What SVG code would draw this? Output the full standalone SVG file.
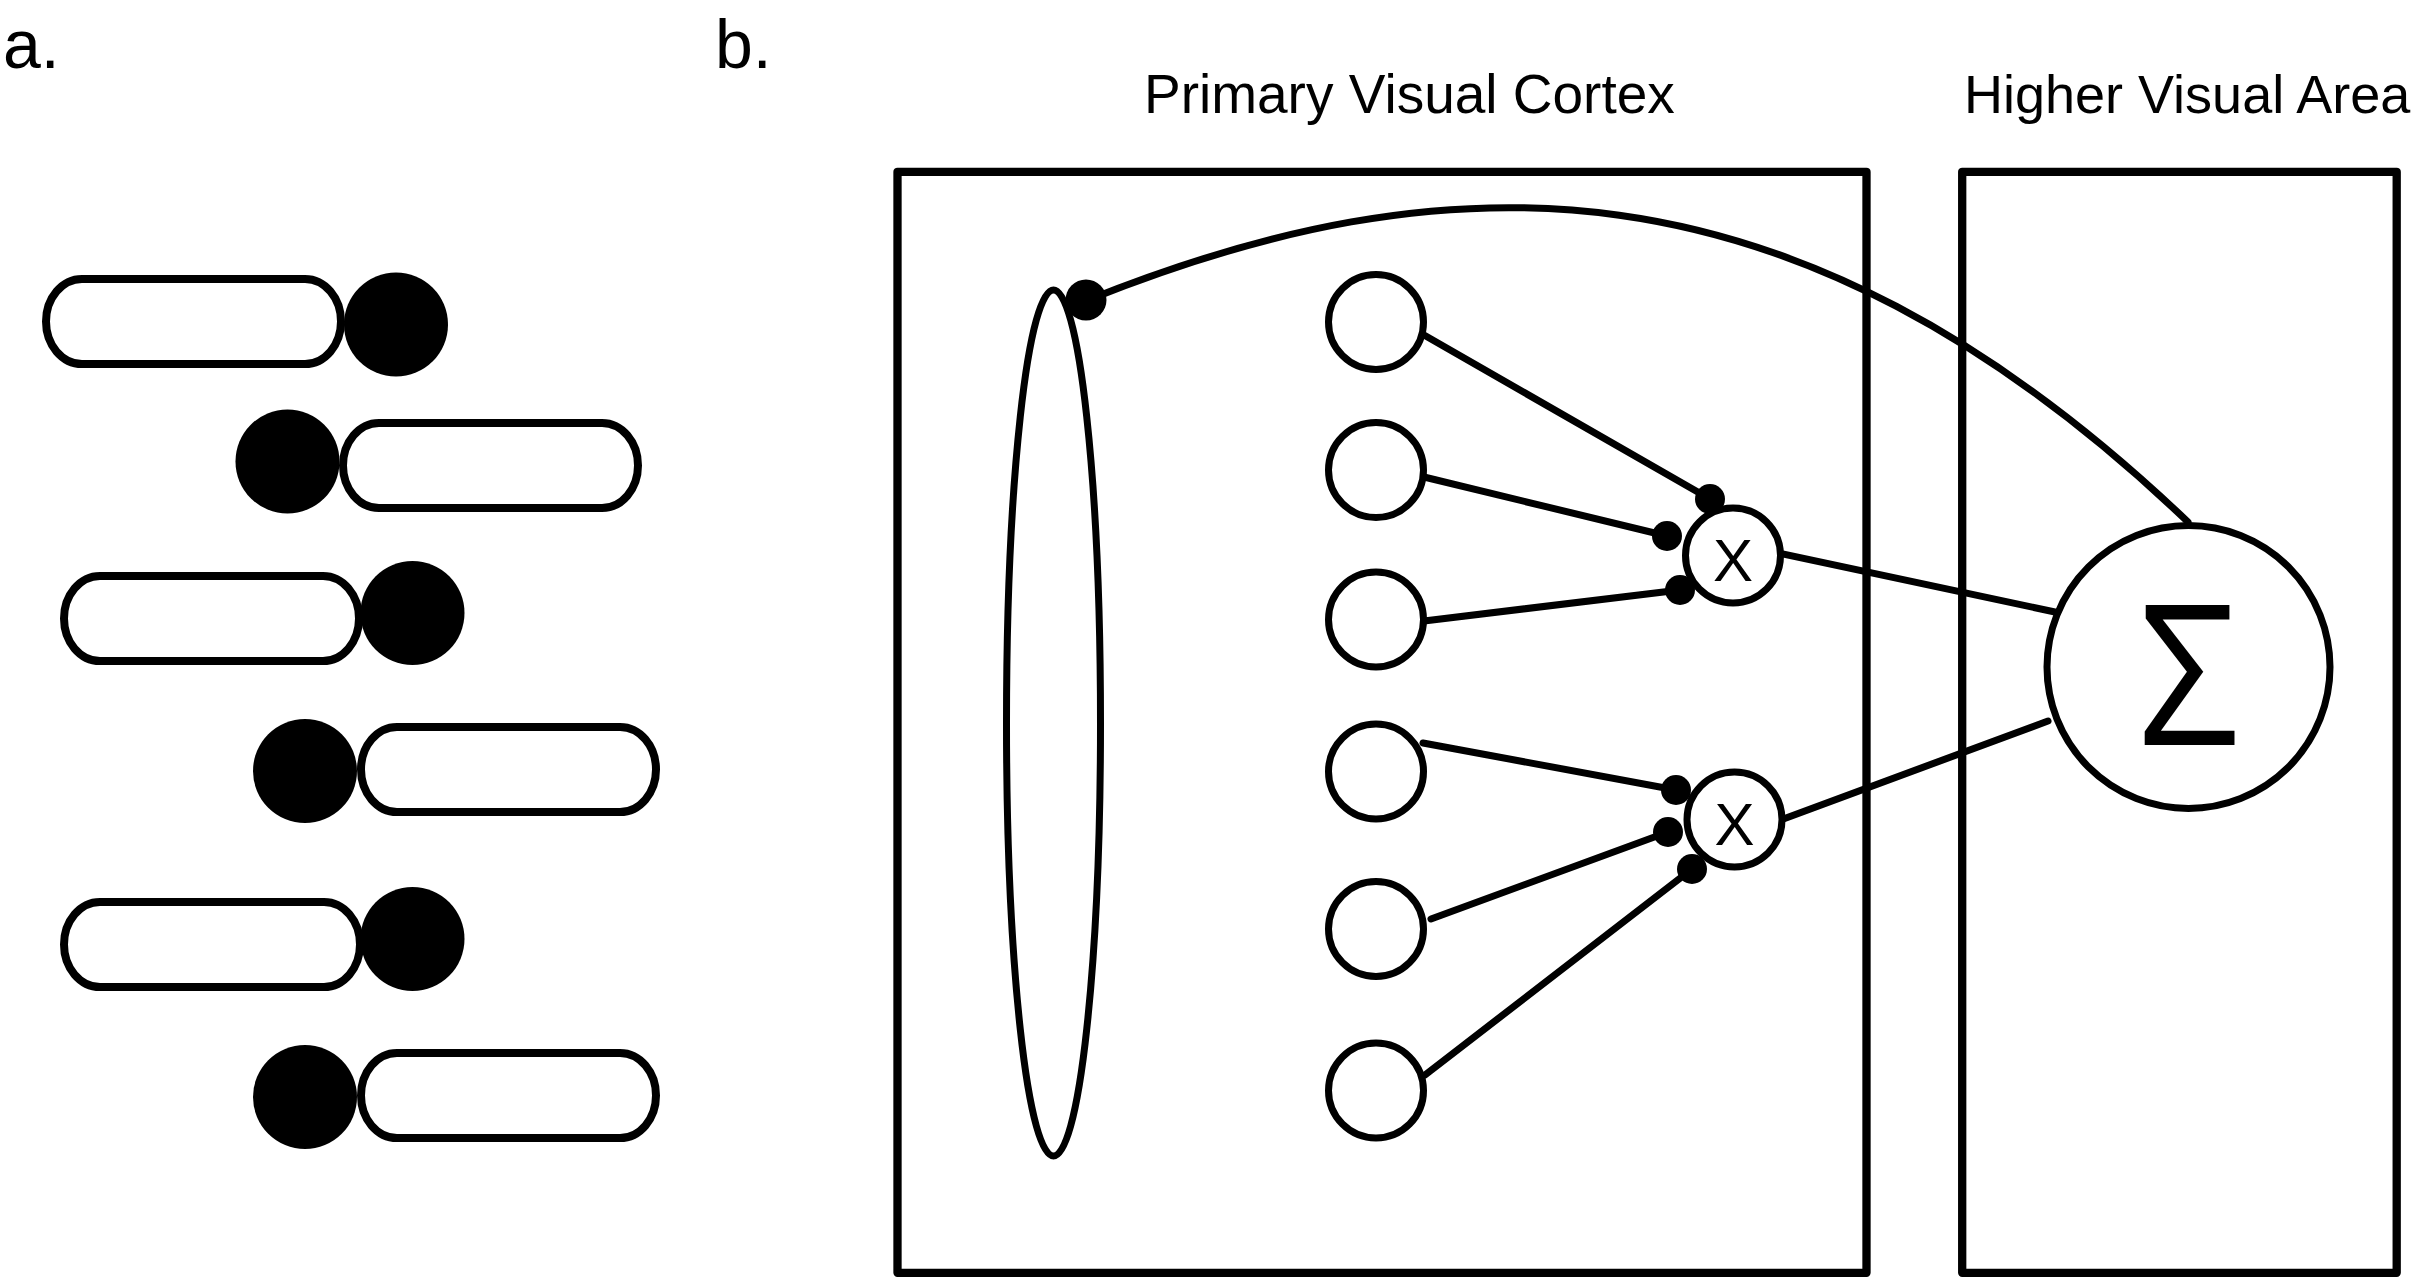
<svg xmlns="http://www.w3.org/2000/svg" width="2427" height="1278" viewBox="0 0 2427 1278">
<style>
.cap{fill:#fff;stroke:#000;stroke-width:8}
.blk{fill:#000}
.box{fill:none;stroke:#000;stroke-width:8.3;stroke-linejoin:round}
.nd{fill:#fff;stroke:#000;stroke-width:7}
.ln{fill:none;stroke:#000;stroke-width:7;stroke-linecap:round}
.lbl{font-family:"Open Sans","Liberation Sans",sans-serif;fill:#000}
.pl{font-family:"Liberation Sans",Arial,sans-serif;fill:#000}
</style>
<rect width="2427" height="1278" fill="#fff"/>
<text class="pl" x="3" y="68" font-size="68">a.</text>
<text class="pl" x="715" y="68" font-size="68">b.</text>
<g id="panel-a">
<g id="cell1"><rect class="cap" x="46" y="279" width="295" height="85" rx="36" ry="42.5"/><circle class="blk" cx="396" cy="324.5" r="52"/></g>
<g id="cell2"><rect class="cap" x="343" y="423" width="295" height="85" rx="36" ry="42.5"/><circle class="blk" cx="287.5" cy="461.5" r="52"/></g>
<g id="cell3"><rect class="cap" x="64" y="576" width="295" height="85" rx="36" ry="42.5"/><circle class="blk" cx="412.5" cy="613" r="52"/></g>
<g id="cell4"><rect class="cap" x="361" y="727" width="295" height="85" rx="36" ry="42.5"/><circle class="blk" cx="305" cy="771" r="52"/></g>
<g id="cell5"><rect class="cap" x="64" y="902" width="296" height="85" rx="36" ry="42.5"/><circle class="blk" cx="412.5" cy="939" r="52"/></g>
<g id="cell6"><rect class="cap" x="361" y="1053" width="295" height="85" rx="36" ry="42.5"/><circle class="blk" cx="305" cy="1097" r="52"/></g>
</g>
<g id="v1-box"><rect class="box" x="897.5" y="171.8" width="969" height="1101"/><text class="pl" x="1144" y="112.7" font-size="55">Primary Visual Cortex</text></g>
<g id="hva-box"><rect class="box" x="1962.2" y="171.8" width="434.5" height="1101"/><text class="pl" x="1964" y="112.7" font-size="54">Higher Visual Area</text></g>
<g id="connectors">
<path class="ln" d="M1088,300 C1438,160 1788,140 2188,522"/>
<line class="ln" x1="1424" y1="335" x2="1710" y2="499"/>
<line class="ln" x1="1424" y1="477" x2="1667" y2="536"/>
<line class="ln" x1="1424" y1="621" x2="1680" y2="590"/>
<line class="ln" x1="1423" y1="743" x2="1676" y2="790"/>
<line class="ln" x1="1431" y1="919" x2="1668" y2="832"/>
<line class="ln" x1="1425" y1="1075" x2="1692" y2="869"/>
<line class="ln" x1="1778" y1="553" x2="2055" y2="612"/>
<line class="ln" x1="1778" y1="821" x2="2048" y2="721"/>
<circle class="blk" cx="1086" cy="300" r="20.5"/>
<circle class="blk" cx="1710" cy="499" r="15"/>
<circle class="blk" cx="1667" cy="536" r="15"/>
<circle class="blk" cx="1680" cy="590" r="15"/>
<circle class="blk" cx="1676" cy="790" r="15"/>
<circle class="blk" cx="1668" cy="832" r="15"/>
<circle class="blk" cx="1692" cy="869" r="15"/>
</g>
<g id="pool"><ellipse cx="1053.5" cy="723" rx="47" ry="433" fill="none" stroke="#000" stroke-width="7"/></g>
<g id="in1"><circle class="nd" cx="1376" cy="322" r="47.5"/></g>
<g id="in2"><circle class="nd" cx="1376" cy="470" r="47.5"/></g>
<g id="in3"><circle class="nd" cx="1376" cy="619.5" r="47.5"/></g>
<g id="in4"><circle class="nd" cx="1376" cy="771.5" r="47.5"/></g>
<g id="in5"><circle class="nd" cx="1376" cy="929" r="47.5"/></g>
<g id="in6"><circle class="nd" cx="1376" cy="1090.5" r="47.5"/></g>
<g id="mult1"><circle class="nd" cx="1733" cy="555.5" r="47.5"/><text class="pl" x="1733" y="581" font-size="60" text-anchor="middle">X</text></g>
<g id="mult2"><circle class="nd" cx="1734.5" cy="819.5" r="47.5"/><text class="pl" x="1734.5" y="845" font-size="60" text-anchor="middle">X</text></g>
<g id="sum"><circle class="nd" cx="2188.5" cy="667" r="141.5"/><text class="lbl" x="2188.5" y="745" font-size="196" text-anchor="middle" textLength="100" lengthAdjust="spacingAndGlyphs">Σ</text></g>
</svg>
